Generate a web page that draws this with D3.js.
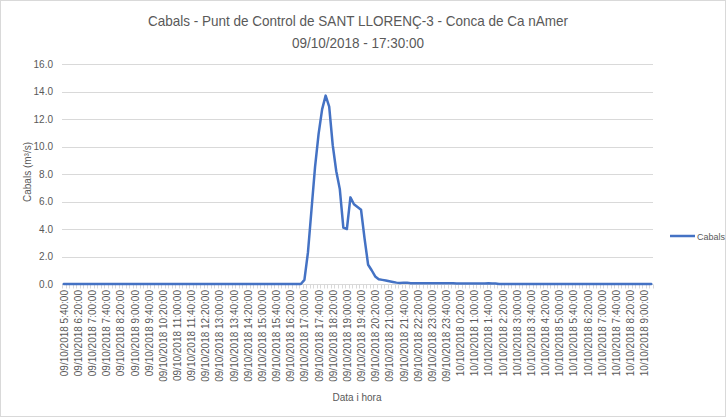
<!DOCTYPE html>
<html>
<head>
<meta charset="utf-8">
<script src="https://cdn.jsdelivr.net/npm/d3@7"></script>
<style>
  body { margin: 0; background: #fff; }
  text { font-family: "Liberation Sans", Arial, sans-serif; fill: #595959; }
</style>
</head>
<body>
<div id="chart"></div>
<script>
// Chart texts
var titleLines = ["Cabals - Punt de Control de SANT LLORENÇ-3 - Conca de Ca nAmer", "09/10/2018 - 17:30:00"];
var yTitle = "Cabals (m³/s)";
var xTitle = "Data i hora";
var seriesName = "Cabals";

// Categories: every 10 minutes from 09/10/2018 5:40 to 10/10/2018 9:20
var startTime = new Date(2018, 9, 9, 5, 40);
var endTime = new Date(2018, 9, 10, 9, 30);
var categories = d3.timeMinute.every(10).range(startTime, endTime);

// Cabals (m3/s), one value per category
var cabals = [
  0, 0, 0, 0, 0, 0, 0, 0, 0, 0,
  0, 0, 0, 0, 0, 0, 0, 0, 0, 0,
  0, 0, 0, 0, 0, 0, 0, 0, 0, 0,
  0, 0, 0, 0, 0, 0, 0, 0, 0, 0,
  0, 0, 0, 0, 0, 0, 0, 0, 0, 0,
  0, 0, 0, 0, 0, 0, 0, 0, 0, 0,
  0, 0, 0, 0, 0, 0, 0, 0,
  0.3, 2.3, 5.4, 8.5, 10.9, 12.7, 13.7, 12.9, 10.1, 8.2,
  6.9, 4.1, 4.0, 6.3, 5.8, 5.6, 5.4, 3.3, 1.4, 1.0,
  0.55, 0.35, 0.3, 0.25, 0.2, 0.15, 0.1, 0.08, 0.1, 0.1,
  0.05, 0.05, 0.05, 0.05, 0.05, 0.05, 0.05, 0.05, 0.05, 0.05,
  0.05, 0.05, 0.05,
  0.03, 0.03, 0.03, 0.03, 0.03, 0.03, 0.03, 0.03, 0.03, 0.06,
  0.03, 0.03,
  0, 0, 0, 0, 0, 0, 0, 0, 0, 0,
  0, 0, 0, 0, 0, 0, 0, 0, 0, 0,
  0, 0, 0, 0, 0, 0, 0, 0, 0, 0,
  0, 0, 0, 0, 0, 0, 0, 0, 0, 0,
  0, 0, 0, 0
];

var yTicks = [0, 2, 4, 6, 8, 10, 12, 14, 16];
var labelEvery = 4;

var svgWidth = 726;
var svgHeight = 417;
var plot = { left: 62, right: 653, top: 64, bottom: 284 };

var svg = d3.select("#chart").append("svg")
  .attr("width", svgWidth).attr("height", svgHeight);

// outer border
svg.append("rect")
  .attr("x", 0.5).attr("y", 0.5)
  .attr("width", svgWidth - 1).attr("height", svgHeight - 1)
  .attr("fill", "#fff").attr("stroke", "#d9d9d9");

var x = d3.scaleBand().domain(d3.range(categories.length)).range([plot.left, plot.right]);
var y = d3.scaleLinear().domain([0, 16]).range([plot.bottom, plot.top]);
var fmt = d3.timeFormat("%d/%m/%Y %-H:%M:%S");

// gridlines
svg.append("g").selectAll("line").data(yTicks.slice(1)).join("line")
  .attr("x1", plot.left).attr("x2", plot.right)
  .attr("y1", d => Math.round(y(d)) + 0.5).attr("y2", d => Math.round(y(d)) + 0.5)
  .attr("stroke", "#d9d9d9").attr("stroke-width", 1);

// y axis labels
var yAxis = svg.append("g")
  .attr("transform", `translate(${plot.left},0)`)
  .call(d3.axisLeft(y).tickValues(yTicks).tickFormat(d3.format(".1f")).tickSize(0).tickPadding(9));
yAxis.select(".domain").remove();
yAxis.selectAll("text").style("font-size", "10px").attr("fill", "#595959");

// x axis line with category tick marks
var xAxisG = svg.append("g").attr("transform", `translate(0,${Math.round(plot.bottom) + 0.5})`);
xAxisG.append("line")
  .attr("x1", plot.left).attr("x2", plot.right)
  .attr("stroke", "#d9d9d9");
xAxisG.selectAll("line.tick").data(d3.range(categories.length + 1)).join("line")
  .attr("class", "tick")
  .attr("x1", i => Math.round(plot.left + i * x.step()) + 0.5)
  .attr("x2", i => Math.round(plot.left + i * x.step()) + 0.5)
  .attr("y1", 0).attr("y2", 4)
  .attr("stroke", "#d9d9d9");

// x labels
svg.append("g").selectAll("text")
  .data(categories.map((d, i) => i).filter(i => i % labelEvery === 0))
  .join("text")
  .attr("transform", i => `translate(${x(i) + x.bandwidth() / 2 + 0.5},290) rotate(-90)`)
  .attr("dy", "0.35em")
  .attr("text-anchor", "end")
  .style("font-size", "10px")
  .text(i => fmt(categories[i]));

// series line
var line = d3.line()
  .x((d, i) => x(i) + x.bandwidth() / 2)
  .y(d => y(d));
svg.append("path")
  .datum(cabals)
  .attr("d", line)
  .attr("fill", "none")
  .attr("stroke", "#4472c4")
  .attr("stroke-width", 2.5)
  .attr("stroke-linejoin", "round")
  .attr("stroke-linecap", "round");

// title, squeezed a little to the narrower width of the original font
var titles = svg.append("g").selectAll("text").data(titleLines).join("text")
  .attr("x", 358).attr("y", (d, i) => 26 + i * 22)
  .attr("text-anchor", "middle")
  .style("font-size", "15px")
  .text(d => d);
var squeeze = 420 / titles.node().getComputedTextLength();
titles.each(function () {
  d3.select(this)
    .attr("textLength", this.getComputedTextLength() * squeeze)
    .attr("lengthAdjust", "spacingAndGlyphs");
});

// axis titles
svg.append("text")
  .attr("x", 357).attr("y", 401)
  .attr("text-anchor", "middle")
  .style("font-size", "10px")
  .text(xTitle);

svg.append("text")
  .attr("transform", "translate(31,172) rotate(-90)")
  .attr("text-anchor", "middle")
  .style("font-size", "10px")
  .text(yTitle);

// legend
svg.append("line")
  .attr("x1", 670).attr("x2", 695).attr("y1", 236).attr("y2", 236)
  .attr("stroke", "#4472c4").attr("stroke-width", 2.5);
svg.append("text")
  .attr("x", 697).attr("y", 239.5)
  .style("font-size", "9px")
  .text(seriesName);
</script>
</body>
</html>
